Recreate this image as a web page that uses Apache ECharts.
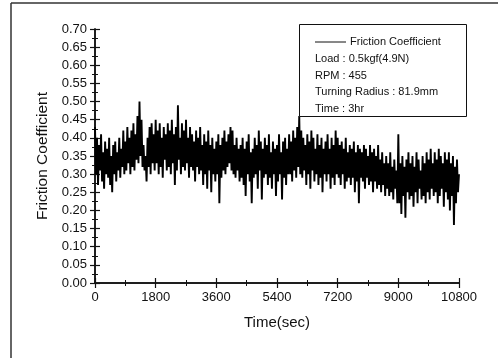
<!DOCTYPE html>
<html>
<head>
<meta charset="utf-8">
<script src="https://cdn.jsdelivr.net/npm/echarts@6/dist/echarts.min.js"></script>
<style>
html,body{margin:0;padding:0;background:#fff;}
#chart{width:498px;height:358px;}
</style>
</head>
<body>
<div id="chart"></div>
<script>
// Sampling step of the read-off values (seconds)
const sampleStep = 30;
// Friction coefficient, one value every 30 s (0 .. 10800 s)
const frictionValues = [
  0.43,0.30,0.40,0.27,0.38,0.31,0.41,0.28,0.36,0.26,0.39,0.30,
  0.37,0.29,0.40,0.27,0.35,0.25,0.38,0.30,0.39,0.28,0.36,0.31,
  0.40,0.29,0.37,0.32,0.42,0.30,0.39,0.31,0.43,0.33,0.40,0.30,
  0.42,0.32,0.44,0.31,0.41,0.34,0.46,0.33,0.50,0.35,0.45,0.32,
  0.38,0.31,0.35,0.28,0.40,0.32,0.43,0.30,0.44,0.33,0.41,0.31,
  0.45,0.33,0.42,0.30,0.44,0.32,0.40,0.29,0.43,0.34,0.41,0.31,
  0.44,0.32,0.42,0.30,0.45,0.33,0.41,0.27,0.43,0.31,0.49,0.34,
  0.40,0.30,0.44,0.32,0.42,0.31,0.45,0.33,0.40,0.29,0.43,0.32,
  0.41,0.31,0.39,0.28,0.42,0.32,0.40,0.30,0.43,0.31,0.38,0.27,
  0.41,0.30,0.39,0.26,0.42,0.31,0.38,0.25,0.40,0.30,0.37,0.28,
  0.39,0.30,0.41,0.22,0.38,0.29,0.40,0.31,0.42,0.30,0.39,0.32,
  0.41,0.33,0.43,0.31,0.42,0.30,0.38,0.29,0.40,0.31,0.37,0.28,
  0.38,0.29,0.40,0.27,0.37,0.24,0.39,0.30,0.41,0.28,0.36,0.22,
  0.37,0.29,0.40,0.30,0.38,0.26,0.42,0.31,0.39,0.23,0.37,0.29,
  0.40,0.30,0.38,0.27,0.41,0.29,0.36,0.26,0.39,0.30,0.37,0.24,
  0.38,0.28,0.41,0.30,0.36,0.23,0.39,0.29,0.40,0.27,0.37,0.30,
  0.41,0.30,0.39,0.28,0.42,0.31,0.40,0.29,0.43,0.32,0.46,0.30,
  0.42,0.29,0.40,0.31,0.38,0.27,0.41,0.30,0.39,0.26,0.42,0.31,
  0.40,0.28,0.37,0.30,0.41,0.27,0.38,0.29,0.40,0.25,0.37,0.30,
  0.39,0.28,0.41,0.30,0.37,0.26,0.40,0.29,0.38,0.27,0.42,0.30,
  0.40,0.29,0.38,0.27,0.39,0.30,0.37,0.26,0.40,0.28,0.36,0.29,
  0.38,0.27,0.37,0.29,0.39,0.25,0.36,0.28,0.38,0.22,0.37,0.29,
  0.36,0.28,0.38,0.26,0.37,0.29,0.35,0.27,0.38,0.28,0.36,0.25,
  0.37,0.28,0.35,0.26,0.38,0.27,0.34,0.25,0.36,0.27,0.33,0.24,
  0.35,0.26,0.33,0.24,0.36,0.25,0.32,0.23,0.34,0.26,0.31,0.22,
  0.41,0.22,0.33,0.19,0.35,0.24,0.32,0.18,0.34,0.25,0.36,0.23,
  0.33,0.24,0.35,0.21,0.32,0.25,0.36,0.22,0.34,0.26,0.31,0.23,
  0.35,0.24,0.33,0.22,0.36,0.25,0.34,0.23,0.37,0.26,0.33,0.24,
  0.36,0.25,0.34,0.22,0.37,0.24,0.35,0.26,0.33,0.21,0.36,0.25,
  0.34,0.23,0.36,0.20,0.33,0.24,0.35,0.16,0.32,0.22,0.34,0.25,
  0.30
];
const legendLines = [
  'Load : 0.5kgf(4.9N)',
  'RPM : 455',
  'Turning Radius : 81.9mm',
  'Time : 3hr'
];
const seriesName = 'Friction Coefficient';
const xTitle = 'Time(sec)';
const yTitle = 'Friction Coefficient';

const seriesData = frictionValues.map((v, i) => [i * sampleStep, v]);

const font = '"Liberation Sans", Arial, Helvetica, sans-serif';
const ink = '#111';

const chart = echarts.init(document.getElementById('chart'), null, {renderer: 'canvas'});

const baseX = {
  type: 'value', min: 0, max: 10800, interval: 1800, position: 'bottom',
  splitLine: {show: false},
  axisLine: {show: true, onZero: false, lineStyle: {color: ink, width: 1.5}}
};
const baseY = {
  type: 'value', min: 0, max: 0.7, interval: 0.05, position: 'left',
  splitLine: {show: false},
  axisLine: {show: true, onZero: false, lineStyle: {color: ink, width: 1.5}}
};

const graphics = [
  {type: 'line', shape: {x1: 11, y1: 3, x2: 498, y2: 3}, style: {stroke: '#333', lineWidth: 1.5}, silent: true},
  {type: 'line', shape: {x1: 11, y1: 3, x2: 11, y2: 358}, style: {stroke: '#333', lineWidth: 1.5}, silent: true},
  {type: 'rect', shape: {x: 299.5, y: 24.5, width: 167, height: 92}, style: {fill: '#fff', stroke: ink, lineWidth: 1}, z: 10},
  {type: 'line', shape: {x1: 315, y1: 42, x2: 346, y2: 42}, style: {stroke: ink, lineWidth: 1}, z: 11},
  {type: 'text', x: 350, y: 42, z: 11,
    style: {text: seriesName, font: '11px ' + font, fill: ink, verticalAlign: 'middle'}}
];
legendLines.forEach((t, i) => {
  graphics.push({
    type: 'text', x: 315, y: 59 + i * 16.5, z: 11,
    style: {text: t, font: '11px ' + font, fill: ink, verticalAlign: 'middle'}
  });
});

chart.setOption({
  backgroundColor: '#fff',
  animation: false,
  grid: {left: 95, right: 39, top: 29, bottom: 75, containLabel: false},
  xAxis: [
    Object.assign({}, baseX, {
      axisTick: {show: true, inside: false, length: 5, lineStyle: {color: ink, width: 1.2}},
      minorTick: {show: true, splitNumber: 2, length: 3, lineStyle: {color: ink, width: 1}},
      axisLabel: {show: true, margin: 8, fontFamily: font, fontSize: 13, color: ink,
        formatter: v => String(v)},
      name: xTitle, nameLocation: 'middle', nameGap: 32,
      nameTextStyle: {fontFamily: font, fontSize: 15, color: ink}
    }),
    Object.assign({}, baseX, {
      axisTick: {show: true, inside: true, length: 5, lineStyle: {color: ink, width: 1.2}},
      minorTick: {show: true, splitNumber: 2, length: 3, lineStyle: {color: ink, width: 1}},
      axisLabel: {show: false}
    })
  ],
  yAxis: [
    Object.assign({}, baseY, {
      axisTick: {show: true, inside: false, length: 5, lineStyle: {color: ink, width: 1.2}},
      minorTick: {show: true, splitNumber: 2, length: 3, lineStyle: {color: ink, width: 1}},
      axisLabel: {show: true, margin: 8, fontFamily: font, fontSize: 13, color: ink,
        formatter: v => v.toFixed(2)},
      name: yTitle, nameLocation: 'middle', nameGap: 32, nameRotate: 90,
      nameTextStyle: {fontFamily: font, fontSize: 15.5, color: ink}
    }),
    Object.assign({}, baseY, {
      axisTick: {show: true, inside: true, length: 5, lineStyle: {color: ink, width: 1.2}},
      minorTick: {show: true, splitNumber: 2, length: 3, lineStyle: {color: ink, width: 1}},
      axisLabel: {show: false}
    })
  ],
  graphic: graphics,
  series: [{
    name: seriesName, type: 'line', xAxisIndex: 0, yAxisIndex: 0,
    data: seriesData, showSymbol: false, symbol: 'none', sampling: null,
    lineStyle: {color: '#000', width: 1.9}, itemStyle: {color: '#000'}, z: 3
  }]
});
</script>
</body>
</html>
